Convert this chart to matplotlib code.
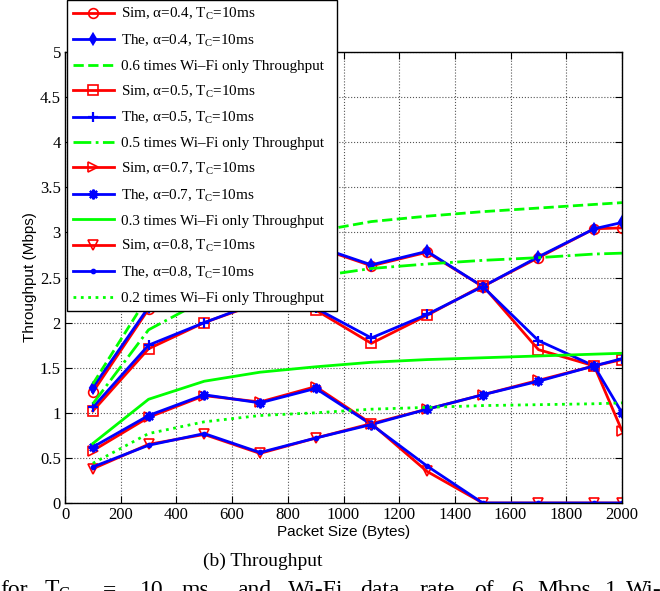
import matplotlib
matplotlib.use("Agg")
import matplotlib.pyplot as plt

plt.rcParams["mathtext.fontset"] = "custom"
plt.rcParams["mathtext.rm"] = "Liberation Serif"
plt.rcParams["mathtext.it"] = "Liberation Serif:italic"

# packet sizes (bytes)
pkt = [100, 300, 500, 700, 900, 1100, 1300, 1500, 1700, 1900, 2000]

# throughput (Mbps)
sim_04 = [1.23, 2.15, 2.50, 2.72, 2.84, 2.63, 2.78, 2.40, 2.72, 3.04, 3.05]
the_04 = [1.28, 2.17, 2.52, 2.73, 2.85, 2.64, 2.79, 2.40, 2.73, 3.04, 3.11]
wifi_06 = [1.32, 2.30, 2.70, 2.90, 3.01, 3.12, 3.18, 3.23, 3.27, 3.31, 3.33]
sim_05 = [1.02, 1.71, 2.00, 2.22, 2.14, 1.77, 2.08, 2.41, 1.70, 1.52, 1.59]
the_05 = [1.06, 1.75, 2.00, 2.23, 2.16, 1.83, 2.09, 2.40, 1.80, 1.52, 1.60]
wifi_05 = [1.10, 1.92, 2.25, 2.42, 2.51, 2.60, 2.65, 2.69, 2.72, 2.76, 2.77]
sim_07 = [0.58, 0.95, 1.19, 1.12, 1.29, 0.88, 1.04, 1.20, 1.36, 1.52, 0.80]
the_07 = [0.62, 0.97, 1.20, 1.11, 1.27, 0.87, 1.04, 1.20, 1.35, 1.52, 1.00]
wifi_03 = [0.66, 1.15, 1.35, 1.45, 1.51, 1.56, 1.59, 1.61, 1.63, 1.65, 1.66]
sim_08 = [0.38, 0.65, 0.76, 0.55, 0.72, 0.88, 0.35, 0.00, 0.00, 0.00, 0.00]
the_08 = [0.40, 0.64, 0.77, 0.56, 0.72, 0.87, 0.41, 0.00, 0.00, 0.00, 0.00]
wifi_02 = [0.44, 0.77, 0.90, 0.97, 1.00, 1.04, 1.06, 1.08, 1.09, 1.10, 1.11]

xticks = [0, 200, 400, 600, 800, 1000, 1200, 1400, 1600, 1800, 2000]
yticks = [0, 0.5, 1, 1.5, 2, 2.5, 3, 3.5, 4, 4.5, 5]

# the cut-off caption line under the subfigure title, word by word
cap_words = ["for", "T$_{\\mathrm{C}}$", "=", "10", "ms", "and", "Wi-Fi", "data",
             "rate", "of", "6", "Mbps,", "1", "Wi-Fi"]
cap_x = [0, 44, 103, 140, 182, 237, 288, 360, 419, 474, 512, 537, 605, 626]

RED, BLUE, GREEN = "#ff0000", "#0000ff", "#00ff00"
TC = r"T$_{\mathrm{C}}$=10ms"
WF = "times Wi\u2013Fi only Throughput"

fig = plt.figure(figsize=(6.6, 5.91), dpi=100)
ax = fig.add_axes([65 / 660, 88 / 591, 557 / 660, 451 / 591])

lw = 2.0
sim_kw = dict(color=RED, lw=lw, mfc="none", mec=RED, mew=1.2, ms=7)
the_kw = dict(color=BLUE, lw=lw, mec=BLUE, mfc=BLUE, mew=1.6, ms=7)
ast = (8, 2, 0)

ax.plot(pkt, sim_04, marker="o", label=f"Sim, \u03b1=0.4, {TC}", **sim_kw)
ax.plot(pkt, the_04, marker="d", label=f"The, \u03b1=0.4, {TC}",
        **{**the_kw, "ms": 5})
ax.plot(pkt, wifi_06, "--", color=GREEN, lw=lw, label=f"0.6 {WF}")
ax.plot(pkt, sim_05, marker="s", label=f"Sim, \u03b1=0.5, {TC}", **sim_kw)
ax.plot(pkt, the_05, marker="+", label=f"The, \u03b1=0.5, {TC}", **the_kw)
ax.plot(pkt, wifi_05, "-.", color=GREEN, lw=lw, label=f"0.5 {WF}")
ax.plot(pkt, sim_07, marker=">", label=f"Sim, \u03b1=0.7, {TC}", **sim_kw)
ax.plot(pkt, the_07, marker=ast, label=f"The, \u03b1=0.7, {TC}", **the_kw)
ax.plot(pkt, wifi_03, "-", color=GREEN, lw=lw, label=f"0.3 {WF}")
ax.plot(pkt, sim_08, marker="v", label=f"Sim, \u03b1=0.8, {TC}", **sim_kw)
ax.plot(pkt, the_08, marker=".", label=f"The, \u03b1=0.8, {TC}",
        **{**the_kw, "ms": 5})
ax.plot(pkt, wifi_02, ":", color=GREEN, lw=lw, label=f"0.2 {WF}")

ax.set_xlim(0, 2000)
ax.set_ylim(0, 5)
ax.set_xticks(xticks)
ax.set_yticks(yticks)
ax.set_xticklabels([str(t) for t in xticks], family="Liberation Serif", fontsize=12)
ax.set_yticklabels([f"{t:g}" for t in yticks], family="Liberation Serif", fontsize=12)
ax.tick_params(direction="in", top=True, right=True, length=5, width=0.8, pad=3)
ax.grid(True, ls=":", color="#555555", lw=0.8)
for s in ax.spines.values():
    s.set_linewidth(1.0)

ax.set_xlabel("Packet Size (Bytes)", family="Liberation Sans", fontsize=11, labelpad=1)
ax.set_ylabel("Throughput (Mbps)", family="Liberation Sans", fontsize=11, labelpad=2)

# legend sits partly above the axes, as in the original figure
leg = fig.legend(loc="upper left", bbox_to_anchor=(67 / 660, 0, 270 / 660, 1.0),
                 bbox_transform=fig.transFigure, borderaxespad=0, mode="expand",
                 prop={"family": "Liberation Serif", "size": 10.9},
                 frameon=True, fancybox=False, handlelength=2.7,
                 handletextpad=0.45, labelspacing=0.695, borderpad=0.4)
leg.get_frame().set_edgecolor("black")
leg.get_frame().set_linewidth(1.0)
leg.get_frame().set_alpha(1)

fig.text(263 / 660, 1 - 561 / 591, "(b) Throughput", ha="center", va="center",
         family="Liberation Serif", fontsize=14)
for w, x in zip(cap_words, cap_x):
    fig.text(x / 660, 1 - 596 / 591, w, ha="left", va="baseline",
             family="Liberation Serif", fontsize=17)

fig.savefig("out.png", dpi=100)
